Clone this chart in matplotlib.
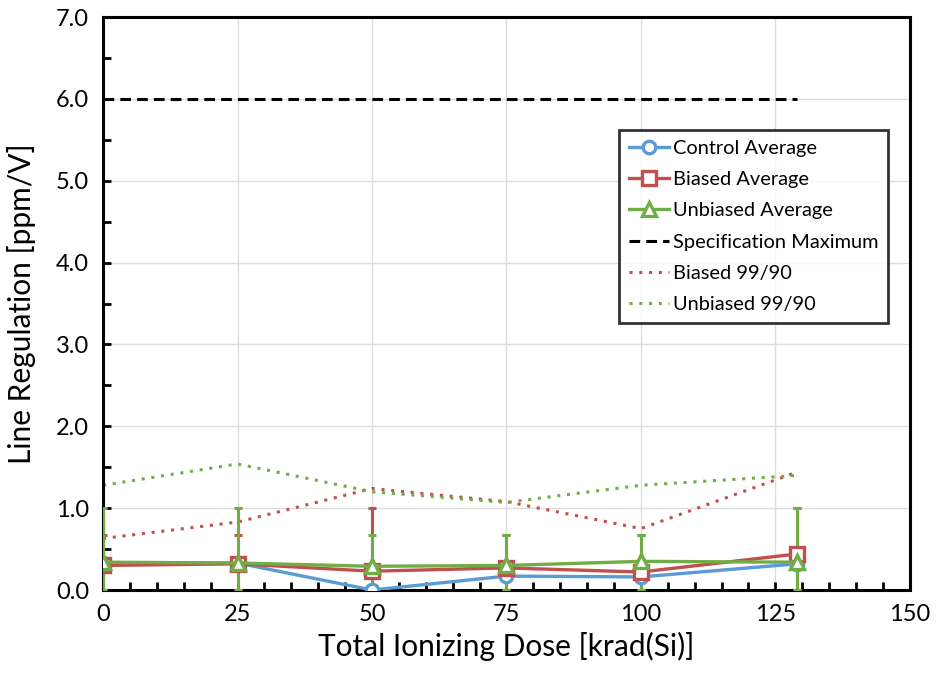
import matplotlib
matplotlib.use("Agg")
import matplotlib.pyplot as plt
import matplotlib.ticker as ticker
import numpy as np

plt.rcParams["font.family"] = ["Lato", "DejaVu Sans"]

dose = [0, 25, 50, 75, 100, 129]

control_avg = [0.33, 0.33, 0.00, 0.17, 0.16, 0.32]
biased_avg = [0.30, 0.32, 0.23, 0.27, 0.22, 0.44]
unbiased_avg = [0.34, 0.33, 0.29, 0.30, 0.35, 0.34]

biased_err_top = [0.67, 0.67, 1.00, 0.67, 0.67, 1.00]
unbiased_err_top = [1.00, 1.00, 0.67, 0.67, 0.67, 1.00]

biased_9990 = [0.63, 0.83, 1.24, 1.08, 0.75, 1.44]
unbiased_9990 = [1.28, 1.54, 1.20, 1.07, 1.28, 1.40]

spec_x = [0, 129]
spec_max = [6.0, 6.0]

BLUE = "#5B9BD5"
RED = "#C0504D"
GREEN = "#70AD47"

fig = plt.figure(figsize=(9.37, 6.81), dpi=100)
ax = fig.add_axes([0.110, 0.1336, 0.861, 0.8414])

b_avg = np.array(biased_avg)
u_avg = np.array(unbiased_avg)
b_err = [b_avg, np.array(biased_err_top) - b_avg]
u_err = [u_avg, np.array(unbiased_err_top) - u_avg]

ax.plot(dose, biased_9990, linestyle=(0, (1, 2.2)), color=RED, lw=2.2,
        label="Biased 99/90", zorder=2)
ax.plot(dose, unbiased_9990, linestyle=(0, (1, 2.2)), color=GREEN, lw=2.2,
        label="Unbiased 99/90", zorder=2)

ax.errorbar(dose, biased_avg, yerr=b_err, fmt="none", ecolor=RED,
            elinewidth=2.2, capsize=3, capthick=2.2, zorder=3)
ax.errorbar(dose, unbiased_avg, yerr=u_err, fmt="none", ecolor=GREEN,
            elinewidth=2.2, capsize=3, capthick=2.2, zorder=3)

ax.plot(dose, control_avg, color=BLUE, lw=2.4, marker="o", ms=9,
        mfc="white", mec=BLUE, mew=2.4, label="Control Average", zorder=4)
ax.plot(dose, biased_avg, color=RED, lw=2.4, marker="s", ms=10,
        mfc="white", mec=RED, mew=2.4, label="Biased Average", zorder=5)
ax.plot(dose, unbiased_avg, color=GREEN, lw=2.4, marker="^", ms=10,
        mfc="white", mec=GREEN, mew=2.4, label="Unbiased Average", zorder=6)

ax.plot(spec_x, spec_max, color="black", lw=2.2, linestyle=(0, (3.5, 2)),
        label="Specification Maximum", zorder=3)

ax.set_xlim(0, 150)
ax.set_ylim(0, 7)
ax.xaxis.set_major_locator(ticker.MultipleLocator(25))
ax.xaxis.set_minor_locator(ticker.MultipleLocator(5))
ax.yaxis.set_major_locator(ticker.MultipleLocator(1))
ax.yaxis.set_minor_locator(ticker.MultipleLocator(0.5))
ax.yaxis.set_major_formatter(ticker.FormatStrFormatter("%.1f"))

ax.tick_params(which="both", direction="in", width=2, length=6,
               color="black")
ax.tick_params(which="major", labelsize=17, pad=10)

ax.grid(which="major", color="#DDDDDD", lw=1, zorder=0)
ax.set_axisbelow(True)
for sp in ax.spines.values():
    sp.set_linewidth(2.2)
    sp.set_color("black")

ax.set_xlabel("Total Ionizing Dose [krad(Si)]", fontsize=21.5, labelpad=5)
ax.set_ylabel("Line Regulation [ppm/V]", fontsize=21.5, labelpad=14)

handles, labels = ax.get_legend_handles_labels()
order = ["Control Average", "Biased Average", "Unbiased Average",
         "Specification Maximum", "Biased 99/90", "Unbiased 99/90"]
hl = dict(zip(labels, handles))
leg = ax.legend([hl[k] for k in order], order, loc="upper right",
                bbox_to_anchor=(0.973, 0.803), borderaxespad=0,
                fontsize=14.4, frameon=True,
                fancybox=False, edgecolor="black", handlelength=2.0,
                handletextpad=0.2, labelspacing=0.71, borderpad=0.5)
leg.get_frame().set_linewidth(2)

fig.savefig("out.png", dpi=100)
